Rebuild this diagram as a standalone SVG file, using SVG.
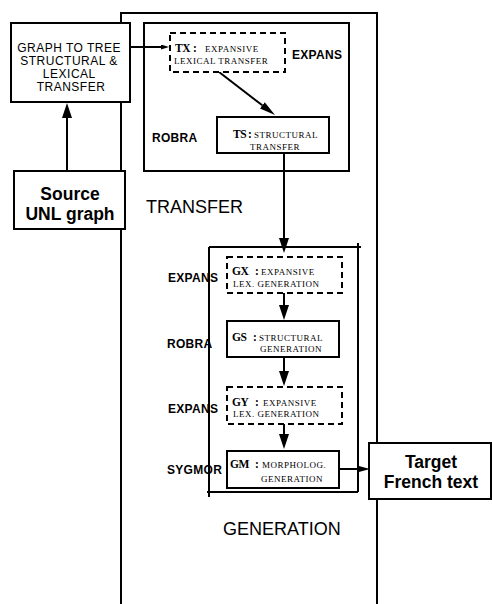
<svg xmlns="http://www.w3.org/2000/svg" width="492" height="604" viewBox="0 0 492 604">
  <style>
    .box { fill: #fff; stroke: #000; stroke-width: 2; }
    .dash { fill: #fff; stroke: #000; stroke-width: 2; stroke-dasharray: 6 4; }
    .frame { fill: none; stroke: #000; stroke-width: 2; }
    .wire { fill: none; stroke: #000; stroke-width: 2; }
    .sans { font-family: "Liberation Sans", Arial, sans-serif; fill: #000; }
    .serif { font-family: "Liberation Serif", "Times New Roman", serif; fill: #000; }
    .code { font-weight: bold; font-size: 11.5px; letter-spacing: -0.5px; }
    .desc { font-size: 9px; letter-spacing: 0.5px; }
    .tool { font-family: "Liberation Sans", Arial, sans-serif; font-weight: bold; font-size: 12px; letter-spacing: 0.3px; }
    .phase { font-family: "Liberation Sans", Arial, sans-serif; font-size: 18px; }
    .big { font-family: "Liberation Sans", Arial, sans-serif; font-weight: bold; font-size: 17.5px; text-anchor: middle; }
  </style>
  <defs>
    <marker id="ah" viewBox="0 -5 15 10" refX="0" refY="0" markerWidth="15" markerHeight="10" markerUnits="userSpaceOnUse" orient="auto">
      <path d="M0,-5 L15,0 L0,5 z" fill="#000"/>
    </marker>
    <marker id="ah-diag" viewBox="0 -4 16 8" refX="0" refY="0" markerWidth="16" markerHeight="8" markerUnits="userSpaceOnUse" orient="auto">
      <path d="M0,-4 L16,0 L0,4 z" fill="#000"/>
    </marker>
    <marker id="ah-md" viewBox="0 -3.5 13 7" refX="0" refY="0" markerWidth="13" markerHeight="7" markerUnits="userSpaceOnUse" orient="auto">
      <path d="M0,-3.5 L13,0 L0,3.5 z" fill="#000"/>
    </marker>
    <marker id="ah-sm" viewBox="0 -2.5 8 5" refX="0" refY="0" markerWidth="8" markerHeight="5" markerUnits="userSpaceOnUse" orient="auto">
      <path d="M0,-2.5 L8,0 L0,2.5 z" fill="#000"/>
    </marker>
  </defs>

  <rect width="492" height="604" fill="#fff"/>

  <!-- outer frame, open at the bottom -->
  <g id="outer-frame">
    <path class="frame" d="M121,604 V13 H377 V604"/>
  </g>

  <!-- transfer phase -->
  <g id="transfer-frame">
    <rect class="box" x="144" y="23" width="205" height="148"/>
    <text class="tool" x="292" y="59">EXPANS</text>
    <text class="tool" x="152" y="142">ROBRA</text>
  </g>
  <text id="transfer-label" class="phase" x="146" y="213">TRANSFER</text>

  <!-- generation phase -->
  <g id="generation-frame">
    <path class="frame" d="M209,247 H361 M209,247 V497 M207,492 H358 M358,243 V492"/>
    <text class="tool" x="168" y="282">EXPANS</text>
    <text class="tool" x="167" y="348">ROBRA</text>
    <text class="tool" x="168" y="413">EXPANS</text>
    <text class="tool" x="167" y="474">SYGMOR</text>
  </g>
  <text id="generation-label" class="phase" x="223" y="535">GENERATION</text>

  <!-- connectors -->
  <g id="connectors">
    <path class="wire" d="M67,171 V118" marker-end="url(#ah)"/>
    <path class="wire" d="M130,47 H161" marker-end="url(#ah-sm)"/>
    <path class="wire" d="M219,72 L262.3,105.3" marker-end="url(#ah-diag)"/>
    <path class="wire" d="M284,153 V238" marker-end="url(#ah)"/>
    <path class="wire" d="M284,293 V305" marker-end="url(#ah)"/>
    <path class="wire" d="M284,357 V371" marker-end="url(#ah)"/>
    <path class="wire" d="M284,424 V434" marker-end="url(#ah)"/>
    <path class="wire" d="M339,469 H357" marker-end="url(#ah-md)"/>
  </g>

  <g id="graph-to-tree">
    <rect class="box" x="11" y="23" width="119" height="79"/>
    <text class="sans" font-size="12" letter-spacing="0.5" text-anchor="middle">
      <tspan x="71" y="52">GRAPH TO TREE</tspan>
      <tspan x="71" y="65">STRUCTURAL &amp;</tspan>
      <tspan x="71" y="78">LEXICAL</tspan>
      <tspan x="71" y="91">TRANSFER</tspan>
    </text>
  </g>

  <g id="source">
    <rect class="box" x="14" y="171" width="111" height="58"/>
    <text class="big" x="70" y="200">Source</text>
    <text class="big" x="70" y="220">UNL graph</text>
  </g>

  <g id="tx">
    <rect class="dash" x="170" y="33" width="115" height="39"/>
    <text class="serif"><tspan class="code" x="175" y="52">TX</tspan><tspan class="code" x="193" y="52">:</tspan><tspan class="desc" x="205" y="52">EXPANSIVE</tspan></text>
    <text class="serif desc" x="174" y="64" letter-spacing="0.9">LEXICAL TRANSFER</text>
  </g>

  <g id="ts">
    <rect class="box" x="217" y="117" width="112" height="36"/>
    <text class="serif"><tspan class="code" x="233" y="138">TS</tspan><tspan class="code" x="248" y="138">:</tspan><tspan class="desc" x="254" y="138">STRUCTURAL</tspan></text>
    <text class="serif desc" x="250" y="150">TRANSFER</text>
  </g>

  <g id="gx">
    <rect class="dash" x="227" y="257" width="115" height="36"/>
    <text class="serif"><tspan class="code" x="232" y="275">GX</tspan><tspan class="code" x="255" y="275">:</tspan><tspan class="desc" x="261" y="275">EXPANSIVE</tspan></text>
    <text class="serif desc" x="233" y="287">LEX. GENERATION</text>
  </g>

  <g id="gs">
    <rect class="box" x="227" y="321" width="112" height="36"/>
    <text class="serif"><tspan class="code" x="232" y="341">GS</tspan><tspan class="code" x="253" y="341">:</tspan><tspan class="desc" x="259" y="341">STRUCTURAL</tspan></text>
    <text class="serif desc" x="260" y="352">GENERATION</text>
  </g>

  <g id="gy">
    <rect class="dash" x="227" y="387" width="115" height="37"/>
    <text class="serif"><tspan class="code" x="232" y="406">GY</tspan><tspan class="code" x="255" y="406">:</tspan><tspan class="desc" x="263" y="406">EXPANSIVE</tspan></text>
    <text class="serif desc" x="233" y="417">LEX. GENERATION</text>
  </g>

  <g id="gm">
    <rect class="box" x="227" y="451" width="112" height="37"/>
    <text class="serif"><tspan class="code" x="230" y="468">GM</tspan><tspan class="code" x="255" y="468">:</tspan><tspan class="desc" x="262" y="468">MORPHOLOG.</tspan></text>
    <text class="serif desc" x="261" y="482">GENERATION</text>
  </g>

  <g id="target">
    <rect class="box" x="369" y="443" width="122" height="56"/>
    <text class="big" x="431" y="468" font-size="18">Target</text>
    <text class="big" x="431" y="488" font-size="18">French text</text>
  </g>
</svg>
